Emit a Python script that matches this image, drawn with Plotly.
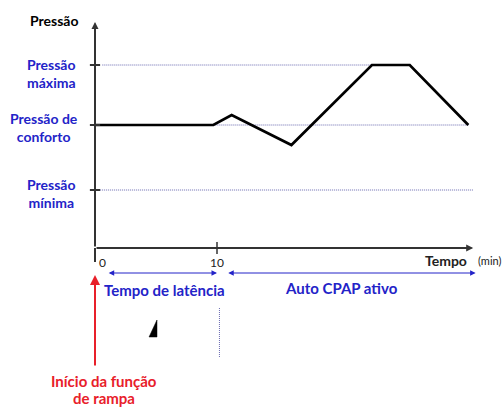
import plotly.graph_objects as go

# ---- data (time in minutes, pressure in arbitrary units) ----
time_pts = [0, 9.7, 11.2, 16.1, 22.7, 25.8, 30.6]
pressure_pts = [12.3, 12.3, 13.3, 10.3, 18.3, 18.3, 12.3]
level_names = ["Pressão<br>mínima", "Pressão de<br>conforto", "Pressão<br>máxima"]
level_values = [5.8, 12.3, 18.3]
level_dotted_from = [0.4, 9.7, 0.6]
level_dotted_to = [31.0, 30.6, 22.7]
x_tick_vals = [0, 10]
x_tick_text = ["0", "10"]
latency_end = 10
time_axis_end = 31

BLUE = "#2323c8"
RED = "#e8202a"
AXIS = "#333333"
DOT = "#6a6ab0"
FONT = "Lato"

fig = go.Figure()

# dotted reference lines
for v, a, b in zip(level_values, level_dotted_from, level_dotted_to):
    fig.add_trace(go.Scatter(x=[a, b], y=[v, v], mode="lines",
                             line=dict(color=DOT, width=1, dash="1px,1px"),
                             hoverinfo="skip", showlegend=False))

# pressure curve
fig.add_trace(go.Scatter(x=time_pts, y=pressure_pts, mode="lines",
                         line=dict(color="black", width=2.7),
                         showlegend=False))

shapes = []
# y axis line (lower part, below x axis)
shapes.append(dict(type="line", xref="x", yref="y", x0=0, x1=0, y0=-1.4, y1=0,
                   line=dict(color=AXIS, width=2)))
# y ticks
for v in level_values:
    shapes.append(dict(type="line", xref="x", yref="y", x0=-0.42, x1=0.42, y0=v, y1=v,
                       line=dict(color=AXIS, width=2)))
# x tick at 10
shapes.append(dict(type="line", xref="x", yref="y", x0=x_tick_vals[1], x1=x_tick_vals[1],
                   y0=-0.6, y1=0.6, line=dict(color=AXIS, width=1.5)))
# vertical dotted line below latency
shapes.append(dict(type="line", xref="x", yref="y", x0=10.2, x1=10.2, y0=-6.0, y1=-10.9,
                   line=dict(color=DOT, width=1, dash="1px,1px")))
# small black triangle
shapes.append(dict(type="path", xref="x", yref="y",
                   path="M 5.08 -7.2 L 4.43 -8.9 L 5.08 -8.9 Z",
                   fillcolor="black", line=dict(color="black", width=0.5)))

ann = []
# y axis with arrow
ann.append(dict(x=0, y=22.6, ax=0, ay=0, xref="x", yref="y", axref="x", ayref="y",
                showarrow=True, arrowhead=2, arrowsize=0.7, arrowwidth=2,
                arrowcolor=AXIS, text=""))
# x axis with arrow
ann.append(dict(x=time_axis_end, y=0, ax=0, ay=0, xref="x", yref="y", axref="x", ayref="y",
                showarrow=True, arrowhead=2, arrowsize=0.7, arrowwidth=2,
                arrowcolor=AXIS, text=""))
# blue double arrows
ann.append(dict(x=latency_end, y=-2.5, ax=1.0, ay=-2.5, xref="x", yref="y", axref="x", ayref="y",
                showarrow=True, arrowhead=2, startarrowhead=2, arrowside="end+start",
                arrowsize=1.1, startarrowsize=1.1, arrowwidth=1, arrowcolor=BLUE, text=""))
ann.append(dict(x=31.2, y=-2.5, ax=10.8, ay=-2.5, xref="x", yref="y", axref="x", ayref="y",
                showarrow=True, arrowhead=2, startarrowhead=2, arrowside="end+start",
                arrowsize=1.1, startarrowsize=1.1, arrowwidth=1, arrowcolor=BLUE, text=""))
# red arrow
ann.append(dict(x=0, y=-2.7, ax=0, ay=-11.9, xref="x", yref="y", axref="x", ayref="y",
                showarrow=True, arrowhead=2, arrowsize=1.0, arrowwidth=2,
                arrowcolor=RED, text=""))

def txt(x, y, s, color, size=13, bold=True, xanchor="center"):
    ann.append(dict(x=x, y=y, xref="x", yref="y", text=(f"<b>{s}</b>" if bold else s),
                    showarrow=False, xanchor=xanchor, yanchor="middle",
                    font=dict(family=FONT, size=size, color=color)))

txt(-3.3, 22.8, "Pressão", "black", 14)
label_pos = [(-3.6, 5.5), (-4.2, 12.1), (-3.6, 17.5)]
for (lx, ly), name in zip(label_pos, level_names):
    txt(lx, ly, name, BLUE, 14)

txt(0.6, -1.4, x_tick_text[0], "#222222", 12, bold=False)
txt(10.0, -1.4, x_tick_text[1], "#222222", 12, bold=False)
txt(28.8, -1.2, "Tempo", "#222222", 14)
txt(32.3, -1.2, "(min)", "#222222", 11, bold=False)
txt(5.7, -4.2, "Tempo de latência", BLUE, 15)
txt(20.2, -4.0, "Auto CPAP ativo", BLUE, 15)
txt(0.75, -13.3, "Início da função", RED, 15)
txt(0.75, -15.0, "de rampa", RED, 15)

x0 = -95 / 12.2
x1 = (502 - 95) / 12.2
y0 = (248 - 407) / 10
y1 = 248 / 10

fig.update_layout(
    width=502, height=407,
    margin=dict(l=0, r=0, t=0, b=0),
    paper_bgcolor="white", plot_bgcolor="white",
    xaxis=dict(range=[x0, x1], visible=False, fixedrange=True),
    yaxis=dict(range=[y0, y1], visible=False, fixedrange=True),
    shapes=shapes, annotations=ann, showlegend=False,
)

fig.write_html("out.html", config={"displayModeBar": False},
               post_script="document.body.style.margin='0';document.body.style.overflow='hidden';")
